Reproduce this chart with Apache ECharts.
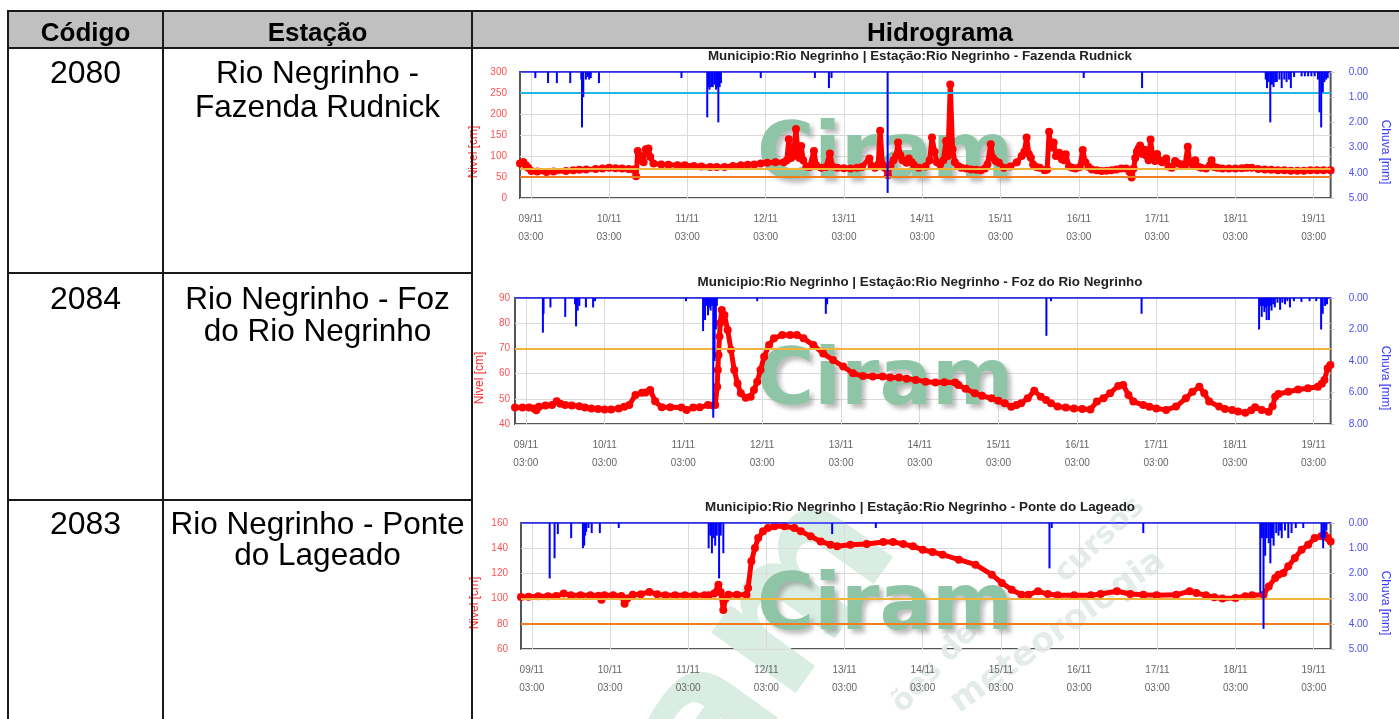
<!DOCTYPE html>
<html><head><meta charset="utf-8">
<script src="https://cdn.jsdelivr.net/npm/echarts@6/dist/echarts.min.js"></script>
<style>html,body{margin:0;padding:0;background:#fff;}#c{width:1399px;height:719px;}</style>
</head><body><div id="c"></div>
<script>
// ---------- DATA ----------
const cabecalho = ['Código', 'Estação', 'Hidrograma'];
const codigos = ['2080', '2084', '2083'];
const estacoes = [['Rio Negrinho -', 'Fazenda Rudnick'], ['Rio Negrinho - Foz', 'do Rio Negrinho'], ['Rio Negrinho - Ponte', 'do Lageado']];
const titulos = [
  'Municipio:Rio Negrinho | Estação:Rio Negrinho - Fazenda Rudnick',
  'Municipio:Rio Negrinho | Estação:Rio Negrinho - Foz do Rio Negrinho',
  'Municipio:Rio Negrinho | Estação:Rio Negrinho - Ponte do Lageado'
];
const nomeNivel = 'Nivel [cm]';
const nomeChuva = 'Chuva [mm]';
// x = hours since 09/11 00:00
const ticksHoras = [3, 27, 51, 75, 99, 123, 147, 171, 195, 219, 243];
const diasRotulos = ['09/11', '10/11', '11/11', '12/11', '13/11', '14/11', '15/11', '16/11', '17/11', '18/11', '19/11'];
const horaRotulo = '03:00';
const inicioHoras = -0.3, fimHoras = 248.2;

const eixoNivel = [[0, 300, 50], [40, 90, 10], [60, 160, 20]];
const eixoChuva = [[0, 5, 1], [0, 8, 2], [0, 5, 1]];
const limitesNivel = [[250, 70, 50], [70], [100, 80]];

const nivelRudnick = [[-0.3,82],[0.7,86],[1.5,78],[2.2,72],[3.2,64],[5,63],[7.8,62],[10,63],[13.8,64],[16,66],[17.9,67],[20,68],[22.9,69],[25,70],[27,72],[29,71],[31,70],[33,69],[34.5,68],[35.3,52],[35.8,112],[36.6,100],[37.2,88],[37.6,85],[38.3,116],[39.1,118],[39.6,98],[40.6,82],[43,80],[45.2,79],[48,78],[50.2,78],[53,76],[55.3,75],[58,74],[60,74],[62.4,74],[65,76],[67.4,78],[69.5,79],[71.5,80],[73.5,82],[75.5,84],[78,85],[80.6,85],[81.5,90],[82.1,140],[82.8,95],[83.5,100],[84.3,164],[84.9,110],[85.4,95],[85.9,124],[86.5,90],[87.5,75],[88.5,74],[89.8,112],[90.5,78],[92,72],[93.5,74],[94.7,106],[95.5,75],[97,72],[99,71],[101,70],[103,72],[104.5,74],[106.8,94],[107.5,76],[108.5,72],[109.5,80],[110.1,160],[110.8,80],[111.5,72],[112.5,54],[113.3,78],[114.2,90],[115,100],[115.6,132],[116.3,102],[117,90],[118.2,84],[118.9,94],[119.8,85],[120.5,78],[122,72],[124,75],[125.3,90],[126,144],[126.8,110],[127.5,85],[128.5,80],[129.5,90],[130.3,136],[130.9,100],[131.6,270],[132.3,116],[133,85],[134,76],[135,72],[136.5,70],[138,68],[139.5,67],[141,66],[142.2,70],[143,80],[144,128],[144.7,95],[145.5,88],[146.5,84],[148,72],[150,75],[152,85],[153.5,100],[154.3,110],[155,144],[155.7,105],[156.3,96],[157,80],[158,74],[159,72],[160.5,66],[161.3,68],[161.9,158],[162.4,120],[163.3,132],[164,100],[165,108],[165.8,92],[166.5,90],[167,104],[168,75],[169,72],[170,70],[171.3,74],[172.2,114],[173,85],[174,74],[175,68],[176.5,66],[178,64],[179.5,65],[181,66],[182.5,68],[184,70],[185.5,70],[186.6,62],[187.2,49],[187.8,70],[188.3,95],[188.8,110],[189.3,118],[189.8,125],[190.5,105],[191.2,115],[191.8,100],[192.4,90],[193,139],[193.7,95],[194.4,88],[195,105],[195.7,90],[196.5,85],[197.8,94],[198.5,75],[199.5,72],[200.5,88],[201.5,82],[202.5,80],[203.5,76],[204.4,122],[205,85],[206,78],[206.7,90],[207.5,75],[208.5,72],[210,70],[211.2,78],[211.7,90],[212.5,74],[213.5,72],[215,70],[217,70],[219,70],[221,71],[222.5,72],[224,72],[226,69],[228,68],[230,67],[232,66],[234,66],[236,65],[238,65],[240,65],[242,66],[244,66],[246,66],[248.2,66]];

const nivelFoz = [[-0.3,46.5],[2,46.5],[4,46.5],[5.5,46.2],[6.2,45.5],[7,46.8],[9,47.3],[11,47.5],[12.4,49],[13.5,48],[15,47.5],[17,47.3],[19.3,47],[21,46.5],[23,46.2],[25,46],[27,45.8],[29,45.8],[31.3,46.2],[33,46.8],[34.5,47.5],[36.4,51.5],[38.4,52.4],[39.5,52.5],[40.9,53.5],[42.4,49],[44.4,46.6],[47,46.6],[50.4,46.5],[52,45.6],[54,46.5],[56,46.6],[58.5,47.5],[60,47.3],[60.7,47.5],[61.3,54.8],[61.5,61.4],[61.7,67.4],[62,74.7],[62.2,80],[62.7,85.2],[63.5,83.3],[64.5,77.3],[65.5,69.4],[66.5,61.4],[67.5,56.1],[68.5,52.2],[70,50.4],[71.5,50.8],[72.5,53.5],[73.5,56.8],[74.5,61.4],[75.6,66.7],[77.1,71.3],[78.6,74],[81.1,75.3],[83.5,75.3],[85.6,75.3],[87.6,74],[90.6,71.3],[93.6,68],[96.6,65.4],[99.7,62.8],[102.7,60.1],[105.7,59],[108.7,58.8],[111.7,58.8],[114,58.5],[116.7,58.5],[119,58],[121.8,57.5],[124.8,56.8],[127.8,56.5],[130.5,56.6],[133.8,56.5],[134.8,55.5],[137,54],[139.8,52.2],[142,51.2],[144.9,50.2],[147,49.2],[148.9,48.2],[150.9,46.8],[152.5,47.5],[153.9,48.2],[155.9,50.2],[157.9,53.2],[159.9,50.8],[161.5,49.5],[163,48.2],[165,46.9],[167.5,46.5],[170,46.2],[172.5,46],[175,45.8],[177,48.9],[179,50.2],[181,52.2],[183.5,55.1],[185,55.5],[186.6,51.5],[188.1,48.9],[191.1,47.5],[193,46.8],[195.1,46.2],[198.1,45.6],[201.1,46.9],[204.1,50.2],[206.1,52.8],[208.2,54.8],[209.7,52.2],[211.2,48.9],[214.2,46.9],[216,46],[218.2,45.6],[220,45],[222.2,44.5],[224,45.5],[225.2,46.6],[227.2,45.6],[229.3,44.9],[230.5,47],[231.3,50.8],[232.3,51.9],[235.3,52.8],[238.3,53.7],[241.3,54.2],[244.3,54.8],[245.5,56],[246.3,57.5],[247.3,62.1],[248.1,63.4]];

const nivelLageado = [[-0.3,101.3],[2,101.5],[5,101.8],[8,101.8],[10.5,102],[12.8,104],[15,102.6],[18,102.6],[21,102.6],[23.5,102.3],[24.4,99],[25.3,102.6],[28,102.6],[30.5,102],[31.5,96],[32.3,100],[34,103],[36.5,103.5],[39.1,105.2],[41.5,103.5],[44,102.6],[47,102.6],[50,102.6],[53,102.6],[56,102.6],[57.3,102.6],[59,104],[60.3,111],[61,105],[61.8,91],[62.5,100],[63.4,103],[66,103],[68.9,103],[69.4,108.4],[70.4,129.6],[71.5,140.2],[72.5,148],[74,153.4],[75.5,156],[77.5,157.4],[80.6,157.4],[83.6,156],[85.6,153.4],[88.6,149.4],[91.7,145.4],[94.7,142.8],[96.7,141.5],[100.8,142.8],[105.8,143.3],[110.9,145],[113.9,145],[117,143.3],[120,141.5],[123,138.8],[126,137],[129.1,134.9],[134.1,130.9],[139.2,126.9],[144.2,119],[147.3,112.4],[150.3,107.1],[153.3,103.1],[155.4,103.1],[158.4,105.8],[161.4,103.6],[164.4,102.6],[169.5,102.6],[174.6,102.6],[177.6,103.6],[182.6,105.8],[186.7,103.6],[190.7,103],[194.8,102.6],[200.8,103],[204.9,105.8],[207,104.5],[209.9,102.6],[212.5,101],[215,100],[219,100.5],[222,101.8],[224.1,102.6],[227.6,103],[229.2,109.7],[231.2,116.3],[232.2,119],[233.7,120.3],[235.2,125.6],[237.2,132.2],[239.3,138.8],[241.3,142.8],[243.3,148],[245.3,149.4],[246.3,150.7],[247.3,148],[248.2,145.4]];

const chuvaRudnick = [[4.4,0.24],[8.3,0.44],[11,0.44],[15.1,0.44],[18.5,0.3],[18.7,2.2],[19.1,1.0],[19.9,0.3],[20.5,0.2],[20.9,0.3],[21.4,0.24],[23.9,0.44],[49.2,0.24],[57.1,1.8],[57.5,0.6],[57.8,0.7],[58.3,0.6],[58.8,0.6],[59.3,0.5],[59.8,0.7],[60.2,0.6],[60.5,2.0],[60.9,0.6],[61.3,0.44],[73.5,0.24],[90.1,0.24],[94.4,0.64],[95.2,0.24],[112.4,4.8],[172.5,0.24],[190.4,0.64],[228.3,0.3],[228.7,0.64],[229.2,0.4],[229.7,2.0],[230.2,0.5],[230.7,0.6],[231.2,0.4],[231.7,0.4],[232.5,0.3],[233.2,0.64],[234,0.3],[234.7,0.4],[235.4,0.3],[236,0.64],[237,0.2],[239.3,0.17],[240.3,0.17],[241.3,0.17],[242.3,0.17],[243.3,0.17],[244.3,0.3],[244.8,1.6],[245.3,2.2],[245.8,0.8],[246.3,0.4],[246.8,0.3],[247.3,0.24]];

const chuvaFoz = [[8.2,2.2],[8.4,1.0],[10.5,0.6],[15,1.2],[18,0.4],[18.3,1.8],[18.8,0.8],[19.3,0.5],[21.3,0.6],[23.5,0.6],[24.1,0.2],[51.8,0.2],[57,2.1],[57.6,1.4],[58,0.5],[58.5,1.1],[59,0.6],[59.3,0.8],[59.7,0.5],[60.1,7.6],[60.5,4.0],[60.9,2.0],[61.2,0.5],[73.5,0.2],[94.4,1.0],[94.8,0.4],[161.6,2.4],[163,0.2],[190.6,1.0],[226.4,2.0],[226.8,0.5],[227.2,1.2],[227.6,0.5],[228,0.9],[228.4,0.6],[228.7,1.4],[229,0.5],[229.4,1.4],[229.8,0.5],[230.2,0.8],[230.7,0.4],[231.2,0.6],[232,0.3],[232.8,0.75],[233.5,0.3],[234.3,0.4],[235,0.2],[235.8,0.6],[237,0.2],[239.3,0.25],[241.8,0.2],[243.8,0.2],[245.3,2.0],[245.8,1.0],[246.5,0.5],[247.1,0.4]];

const chuvaLageado = [[8.5,2.2],[10,1.4],[11,0.44],[15.1,0.6],[18.7,1.0],[19.1,0.9],[19.4,0.5],[19.7,0.35],[20.4,0.2],[21.4,0.4],[23.9,0.4],[29.7,0.2],[57.3,1.0],[57.8,0.5],[58.3,1.2],[58.8,0.6],[59.3,0.9],[59.8,0.5],[60.5,2.2],[61,0.5],[61.8,1.2],[95.2,0.44],[108.6,0.2],[161.9,1.8],[162.6,0.2],[190.7,0.4],[226.6,2.8],[227.1,0.6],[227.6,4.2],[228.1,1.3],[228.6,0.6],[229.2,0.8],[229.7,1.6],[230.2,0.6],[230.7,0.9],[231.5,0.4],[232.2,0.5],[232.7,0.3],[233.2,0.6],[234.2,0.3],[235.2,0.6],[236.2,0.4],[237.5,0.2],[239.8,0.2],[245.4,0.6],[245.9,1.0],[246.4,0.6],[246.9,0.3]];

const marcaDagua = 'Ciram';
const textosFundo = ['ões de', 'cursos', 'meteorologia'];

// ---------- LAYOUT / STYLE ----------
const FONT = '"Liberation Sans", Arial, Helvetica, sans-serif';
const niveis = [nivelRudnick, nivelFoz, nivelLageado];
const chuvas = [chuvaRudnick, chuvaFoz, chuvaLageado];
const grids = [
  { left: 520, top: 72, width: 819, height: 126 },
  { left: 515, top: 298, width: 824, height: 126 },
  { left: 521, top: 523, width: 818, height: 126 }
];
const labelMargins = [13, 5, 13];
const titleY = [57.5, 283.5, 509];
const limiteCores = { 250: '#22b4e6', 70: '#f2b33a', 50: '#f27c1e', 100: '#f2b33a', 80: '#f27c1e' };

const chart = echarts.init(document.getElementById('c'), null, { renderer: 'canvas' });

const gridOpt = [], xAxes = [], yAxes = [], series = [], titles = [], graphics = [];

grids.forEach((g, i) => {
  gridOpt.push(Object.assign({ show: true, borderColor: '#555', borderWidth: 2, backgroundColor: 'transparent' }, g));
  xAxes.push({
    type: 'value', gridIndex: i, min: inicioHoras, max: fimHoras,
    axisLine: { show: false },
    axisTick: { show: false, customValues: ticksHoras },
    splitLine: { show: true, lineStyle: { color: '#dadada', width: 1 } },
    axisLabel: {
      customValues: ticksHoras, color: '#666', fontSize: 10, lineHeight: 18, margin: 12, fontFamily: FONT,
      formatter: v => { const k = ticksHoras.indexOf(v); return k >= 0 ? diasRotulos[k] + '\n' + horaRotulo : ''; }
    }
  });
  const [nmin, nmax, nint] = eixoNivel[i];
  yAxes.push({
    type: 'value', gridIndex: i, position: 'left', min: nmin, max: nmax, interval: nint,
    axisLine: { show: false }, axisTick: { show: false },
    splitLine: { show: true, lineStyle: { color: '#dadada', width: 1 } },
    axisLabel: { color: '#ff5252', fontSize: 10, margin: labelMargins[i], fontFamily: FONT },
    name: nomeNivel, nameLocation: 'middle', nameGap: i === 1 ? 29 : 28,
    nameTextStyle: { color: '#ff2b2b', fontSize: 12, fontFamily: FONT, padding: [0, 34, 0, 0] }
  });
  const [cmin, cmax, cint] = eixoChuva[i];
  yAxes.push({
    type: 'value', gridIndex: i, position: 'right', inverse: true, min: cmin, max: cmax, interval: cint,
    axisLine: { show: false },
    axisTick: { show: true, length: 4, lineStyle: { color: '#cfcfcf' } },
    splitLine: { show: false },
    axisLabel: { color: '#4d4dff', fontSize: 10, margin: 18, fontFamily: FONT, formatter: v => v.toFixed(2) },
    name: nomeChuva, nameLocation: 'middle', nameRotate: -90, nameGap: 41,
    nameTextStyle: { color: '#3a3aff', fontSize: 12, fontFamily: FONT, padding: [0, 0, 0, 34] }
  });
  series.push({
    type: 'line', name: 'Nível', xAxisIndex: i, yAxisIndex: 2 * i, data: niveis[i],
    symbol: 'circle', symbolSize: 8, showSymbol: true,
    lineStyle: { color: '#ff0000', width: 5 }, itemStyle: { color: '#ff0000' },
    z: 3, animation: false
  });
  series.push({
    type: 'line', name: 'Limites', xAxisIndex: i, yAxisIndex: 2 * i, data: [], z: 5, animation: false,
    markLine: {
      silent: true, symbol: 'none', label: { show: false }, animation: false,
      data: limitesNivel[i].map(v => ({ yAxis: v, lineStyle: { color: limiteCores[v], width: 2, type: 'solid' } }))
    }
  });
  series.push({
    type: 'bar', name: 'Chuva', xAxisIndex: i, yAxisIndex: 2 * i + 1, data: chuvas[i],
    barWidth: 2, itemStyle: { color: '#0000ff' }, z: 6, animation: false,
    markLine: {
      silent: true, symbol: 'none', label: { show: false }, animation: false,
      lineStyle: { color: '#2a2aff', width: 1.5, type: 'solid' }, data: [{ yAxis: 0 }]
    }
  });
  titles.push({
    text: titulos[i], left: 920, top: titleY[i] - 8, textAlign: 'center', padding: 0,
    textStyle: { fontSize: 13.4, fontWeight: 'bold', color: '#222', fontFamily: FONT }
  });
  // chart watermark
  graphics.push({
    type: 'text', z: 1, silent: true, x: 757, y: g.top + 86,
    style: {
      text: marcaDagua, font: 'bold 78px "DejaVu Sans", sans-serif', fill: '#8ec5a7',
      align: 'left', verticalAlign: 'middle',
      textShadowColor: 'rgba(90,90,90,0.4)', textShadowBlur: 4, textShadowOffsetX: 4, textShadowOffsetY: 4
    }
  });
});

// page watermark (behind everything)
graphics.push({
  type: 'text', z: 0, silent: true, x: 680, y: 770, rotation: 0.95,
  style: { text: marcaDagua, font: 'bold 190px "DejaVu Sans", sans-serif', fill: '#d9ede2', align: 'center', verticalAlign: 'middle' }
});
graphics.push({
  type: 'text', z: 0, silent: true, x: 935, y: 668, rotation: 0.82,
  style: { text: textosFundo[0], font: 'bold 30px "DejaVu Sans", sans-serif', fill: '#e4ece8', align: 'center', verticalAlign: 'middle' }
});
graphics.push({
  type: 'text', z: 0, silent: true, x: 1100, y: 540, rotation: 0.75,
  style: { text: textosFundo[1], font: 'bold 30px "DejaVu Sans", sans-serif', fill: '#e4ece8', align: 'center', verticalAlign: 'middle' }
});
graphics.push({
  type: 'text', z: 0, silent: true, x: 1058, y: 632, rotation: 0.62,
  style: { text: textosFundo[2], font: 'bold 34px "DejaVu Sans", sans-serif', fill: '#e4ece8', align: 'center', verticalAlign: 'middle' }
});

// table
const lineStroke = { stroke: '#1a1a1a', lineWidth: 2 };
graphics.push({ type: 'rect', z: 2, silent: true, shape: { x: 8, y: 11, width: 1400, height: 37 }, style: { fill: '#c0c0c0' } });
const hLines = [[7, 11, 1399], [7, 48, 1399], [8, 273, 472], [8, 500, 472]];
hLines.forEach(([x1, y, x2]) => graphics.push({ type: 'line', z: 10, silent: true, shape: { x1, y1: y, x2, y2: y }, style: lineStroke }));
[8, 163, 472].forEach(x => graphics.push({ type: 'line', z: 10, silent: true, shape: { x1: x, y1: 10, x2: x, y2: 719 }, style: lineStroke }));
const headX = [85.5, 317.5, 940];
cabecalho.forEach((t, k) => graphics.push({
  type: 'text', z: 11, silent: true, x: headX[k], y: 34,
  style: { text: t, font: 'bold 26px ' + FONT, fill: '#000', align: 'center', verticalAlign: 'middle' }
}));
const rowLineY = [[74.6, 107.9], [300.6, 332.2], [525.6, 556.6]];
codigos.forEach((c, r) => {
  graphics.push({ type: 'text', z: 11, silent: true, x: 85.5, y: rowLineY[r][0],
    style: { text: c, font: '32px ' + FONT, fill: '#000', align: 'center', verticalAlign: 'middle' } });
  estacoes[r].forEach((ln, j) => graphics.push({ type: 'text', z: 11, silent: true, x: 317.5, y: rowLineY[r][j],
    style: { text: ln, font: '31.5px ' + FONT, fill: '#000', align: 'center', verticalAlign: 'middle' } }));
});

chart.setOption({
  animation: false,
  backgroundColor: '#fff',
  textStyle: { fontFamily: FONT },
  title: titles,
  grid: gridOpt,
  xAxis: xAxes,
  yAxis: yAxes,
  series: series,
  graphic: { elements: graphics }
});
</script>
</body></html>
